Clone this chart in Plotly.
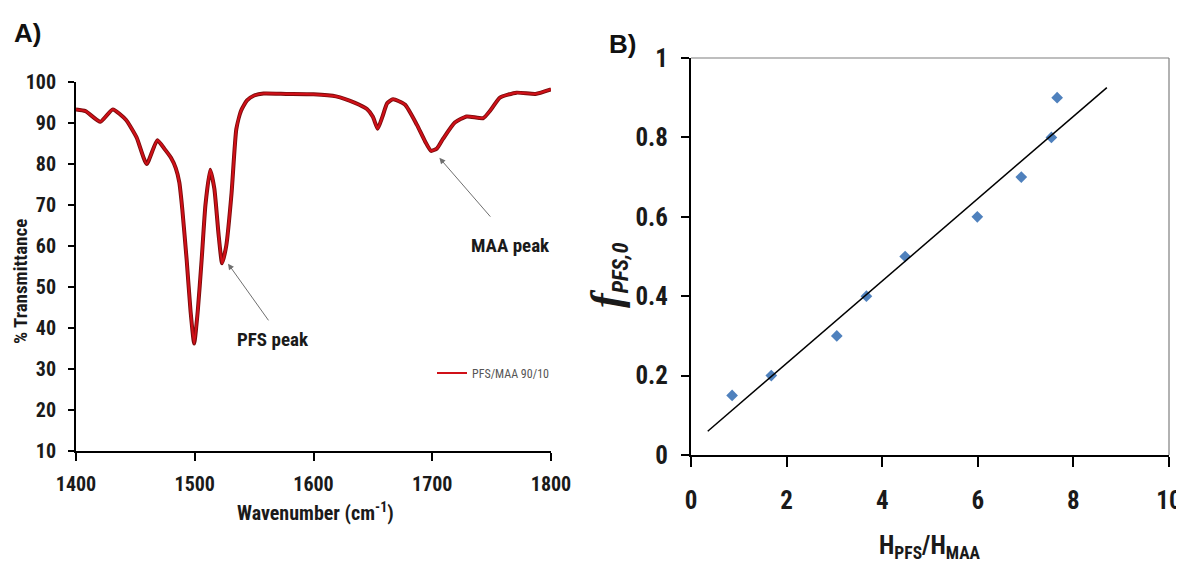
import plotly.graph_objects as go
import numpy as np

# Panel A: FTIR spectrum
wavenumber = [1400, 1408, 1420.5, 1431, 1442, 1451, 1459.5, 1468.5, 1475, 1480, 1484, 1487, 1489.5,
              1493.2, 1496.5, 1499.5, 1502.5, 1505.8, 1509, 1513, 1516.5, 1520, 1523, 1526.5, 1531,
              1535, 1539, 1544, 1550, 1558, 1577, 1600, 1619, 1635, 1645, 1650, 1654, 1658, 1662,
              1667, 1677, 1687, 1694, 1699, 1704, 1709, 1719, 1729, 1743, 1749, 1757, 1771, 1787, 1800]
transmittance = [93.3, 92.9, 90.3, 93.3, 90.8, 86.5, 80.0, 85.8, 83.5, 81.5, 79.0, 75.5, 69.0,
                 56.6, 44.0, 36.2, 44.0, 56.6, 70.0, 78.6, 74.0, 63.0, 55.8, 60.0, 72.9,
                 88.5, 93.0, 95.5, 96.7, 97.2, 97.1, 97.0, 96.5, 94.9, 93.4, 91.5, 88.6, 91.5, 94.8,
                 95.8, 94.5, 89.6, 85.5, 83.2, 83.8, 86.1, 90.1, 91.6, 91.2, 93.1, 96.2, 97.4, 97.1, 98.2]
series_name = "PFS/MAA 90/10"
xticks_a = [1400, 1500, 1600, 1700, 1800]
yticks_a = [10, 20, 30, 40, 50, 60, 70, 80, 90, 100]

# Panel B: calibration
h_ratio = [0.86, 1.68, 3.05, 3.67, 4.48, 5.99, 6.91, 7.54, 7.66]
f_pfs = [0.15, 0.2, 0.3, 0.4, 0.5, 0.6, 0.7, 0.8, 0.9]
trend_x = [0.35, 8.7]
xticks_b = [0, 2, 4, 6, 8, 10]
yticks_b = [0, 0.2, 0.4, 0.6, 0.8, 1]

slope, intercept = np.polyfit(h_ratio, f_pfs, 1)
trend_y = [slope * x + intercept for x in trend_x]

# page body has an 8px margin: figure is placed at (8, 8)
OFF = 8
W, H = 1176, 556
def px(x):
    return (x - OFF) / W
def py(y):
    return 1 - (y - OFF) / H

FONT = "Liberation Sans Narrow, Arial Narrow, Roboto Condensed, Liberation Sans, sans-serif"

fig = go.Figure()
fig.add_trace(go.Scatter(x=wavenumber, y=transmittance, mode="lines", name=series_name,
                         line=dict(color="#7a0c0c", width=4, shape="spline", smoothing=0.5),
                         xaxis="x", yaxis="y", showlegend=False, hoverinfo="skip"))
fig.add_trace(go.Scatter(x=wavenumber, y=transmittance, mode="lines", name=series_name,
                         line=dict(color="#D01018", width=2.2, shape="spline", smoothing=0.5),
                         xaxis="x", yaxis="y", showlegend=True))
fig.add_trace(go.Scatter(x=h_ratio, y=f_pfs, mode="markers", name="data",
                         marker=dict(symbol="diamond", size=9, color="#4F81BD"),
                         xaxis="x2", yaxis="y2", showlegend=False))
fig.add_trace(go.Scatter(x=trend_x, y=trend_y, mode="lines", name="fit",
                         line=dict(color="black", width=1.5),
                         xaxis="x2", yaxis="y2", showlegend=False))

axis_common = dict(showgrid=False, zeroline=False, showline=True, linecolor="black", linewidth=2,
                   ticks="outside", tickcolor="black", tickwidth=1.5, automargin=False)

fig.update_layout(
    width=W, height=H, margin=dict(l=0, r=0, t=0, b=0, pad=0, autoexpand=False),
    paper_bgcolor="white", plot_bgcolor="white",
    font=dict(family=FONT, color="#1a1a1a"),
    xaxis=dict(domain=[px(76), px(551)], range=[1400, 1800], tickvals=xticks_a,
               ticklen=8, tickfont=dict(size=20, weight="bold"), ticklabelstandoff=6,
               anchor="y", **axis_common),
    yaxis=dict(domain=[py(451), py(82)], range=[10, 100], tickvals=yticks_a,
               ticklen=6, tickfont=dict(size=20, weight="bold"), ticklabelstandoff=8,
               anchor="x", **axis_common),
    xaxis2=dict(domain=[px(691), px(1169)], range=[0, 10], tickvals=xticks_b,
                ticklen=10, tickfont=dict(size=25, weight="bold"), ticklabelstandoff=12,
                anchor="y2", **axis_common),
    yaxis2=dict(domain=[py(455), py(58)], range=[0, 1], tickvals=yticks_b,
                ticklen=8, tickfont=dict(size=25, weight="bold"), ticklabelstandoff=8,
                anchor="x2", **axis_common),
    legend=dict(x=px(432), y=py(373), xanchor="left", yanchor="middle",
                font=dict(size=12, color="#555555"), bgcolor="rgba(0,0,0,0)", itemwidth=30),
    showlegend=True,
)

# frame lines top/right for panel B
fig.add_shape(type="line", xref="x2 domain", yref="y2 domain", x0=0, x1=1, y0=1, y1=1,
              line=dict(color="#7f7f7f", width=1.2))
fig.add_shape(type="line", xref="x2 domain", yref="y2 domain", x0=1, x1=1, y0=0, y1=1,
              line=dict(color="#7f7f7f", width=1.2))

def pann(x, y, text, size, **kw):
    d = dict(x=px(x), y=py(y), xref="paper", yref="paper", text=text, showarrow=False,
             xanchor="center", yanchor="middle", font=dict(size=size))
    d.update(kw)
    return d

ann = []
ann.append(pann(27, 33, "<b>A)</b>", 26, font=dict(size=26, family="Liberation Sans, Arial, sans-serif", color="#111")))
ann.append(pann(622, 44, "<b>B)</b>", 26, font=dict(size=26, family="Liberation Sans, Arial, sans-serif", color="#111")))
ann.append(pann(20, 282, "<b>% Transmittance</b>", 19, textangle=-90))
ann.append(pann(315, 512, "<b>Wavenumber (cm<sup>-1</sup>)</b>", 20))
ann.append(pann(930, 547, "<b>H<sub>PFS</sub>/H<sub>MAA</sub></b>", 25))
ann.append(pann(607, 276,
                "<b><i><span style='font-family:Liberation Serif, DejaVu Serif, serif;font-size:44px'>f</span><sub>PFS,0</sub></i></b>",
                32, textangle=-90))
# peak annotations
ann.append(dict(x=1528, y=55.7, xref="x", yref="y", ax=1563, ay=41.5, axref="x", ayref="y",
                text="", showarrow=True, arrowhead=2, arrowsize=1.2, arrowwidth=1, arrowcolor="#6f6f6f"))
ann.append(dict(x=1566, y=37.2, xref="x", yref="y", text="<b>PFS peak</b>", showarrow=False,
                xanchor="center", yanchor="middle", font=dict(size=19)))
ann.append(dict(x=1706, y=81.5, xref="x", yref="y", ax=1750, ay=66.8, axref="x", ayref="y",
                text="", showarrow=True, arrowhead=2, arrowsize=1.2, arrowwidth=1, arrowcolor="#6f6f6f"))
ann.append(dict(x=1766, y=60.2, xref="x", yref="y", text="<b>MAA peak</b>", showarrow=False,
                xanchor="center", yanchor="middle", font=dict(size=19)))
fig.update_layout(annotations=ann)

fig.write_html("out.html")
